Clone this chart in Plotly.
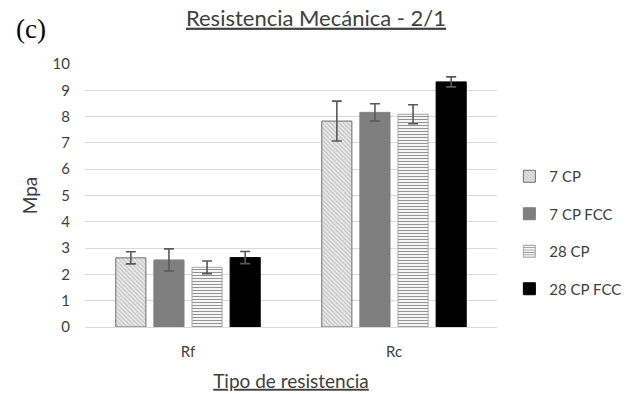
import plotly.graph_objects as go

# Data
categories = ["Rf", "Rc"]
series_names = ["7 CP", "7 CP FCC", "28 CP", "28 CP FCC"]
values = {
    "7 CP": [2.63, 7.83],
    "7 CP FCC": [2.55, 8.16],
    "28 CP": [2.27, 8.09],
    "28 CP FCC": [2.64, 9.32],
}
errors = {
    "7 CP": [0.23, 0.76],
    "7 CP FCC": [0.42, 0.33],
    "28 CP": [0.24, 0.36],
    "28 CP FCC": [0.23, 0.19],
}

# Bar styles per series
styles = {
    "7 CP": dict(color="#e6e6e6", line=dict(color="#6e6e6e", width=1),
                 pattern=dict(shape="\\", fgcolor="#9a9a9a", bgcolor="#ececec",
                              size=3, solidity=0.45)),
    "7 CP FCC": dict(color="#7f7f7f", line=dict(color="#7f7f7f", width=1)),
    "28 CP": dict(color="#ffffff", line=dict(color="#a6a6a6", width=1),
                  pattern=dict(shape="-", fgcolor="#2a2a2a", bgcolor="#ffffff",
                               size=3, solidity=0.4)),
    "28 CP FCC": dict(color="#000000", line=dict(color="#000000", width=1)),
}

font_family = "Lato, 'Open Sans', sans-serif"
text_color = "#404040"

fig = go.Figure()
for i, name in enumerate(series_names):
    fig.add_trace(go.Bar(
        name=name,
        x=categories,
        y=values[name],
        marker=styles[name],
        legendgroup=f"g{i}",
        error_y=dict(type="data", array=errors[name], visible=True,
                     color="#595959", thickness=1.6, width=5),
    ))

fig.update_layout(
    width=634,
    height=394,
    margin=dict(l=85, r=137, t=64, b=67, autoexpand=False),
    paper_bgcolor="white",
    plot_bgcolor="white",
    barmode="group",
    bargap=0.26,
    bargroupgap=0.21,
    font=dict(family=font_family, size=15, color=text_color),
    title=dict(
        text="<u>Resistencia Mecánica - 2/1</u>",
        x=316 / 634, xanchor="center",
        y=1 - 18 / 394, yanchor="middle",
        font=dict(size=22, color=text_color, family=font_family),
    ),
    legend=dict(
        x=1.03, xanchor="left",
        y=0.635, yanchor="top",
        font=dict(size=15, color=text_color),
        tracegroupgap=15,
        traceorder="grouped",
        itemwidth=30,
    ),
    xaxis=dict(
        showline=False,
        showgrid=False,
        ticks="",
        ticklabelstandoff=14,
        tickfont=dict(size=15, color=text_color),
        title=dict(text="<u>Tipo de resistencia</u>",
                   font=dict(size=19, color=text_color), standoff=15),
    ),
    yaxis=dict(
        range=[0, 10],
        dtick=1,
        showgrid=True,
        gridcolor="#d9d9d9",
        gridwidth=1,
        zeroline=True,
        zerolinecolor="#d9d9d9",
        zerolinewidth=1,
        showline=False,
        ticks="",
        ticklabelstandoff=14,
        tickfont=dict(size=15, color=text_color),
        title=dict(text="Mpa", font=dict(size=19, color=text_color), standoff=9),
    ),
)

# Panel label
fig.add_annotation(
    text="(c)", xref="paper", yref="paper",
    x=(14 - 85) / 412, y=1 + (64 - 29) / 263,
    xanchor="left", yanchor="middle", showarrow=False,
    font=dict(family="'Liberation Serif', 'DejaVu Serif', serif", size=27, color="#000000"),
)

fig.write_html("out.html")
